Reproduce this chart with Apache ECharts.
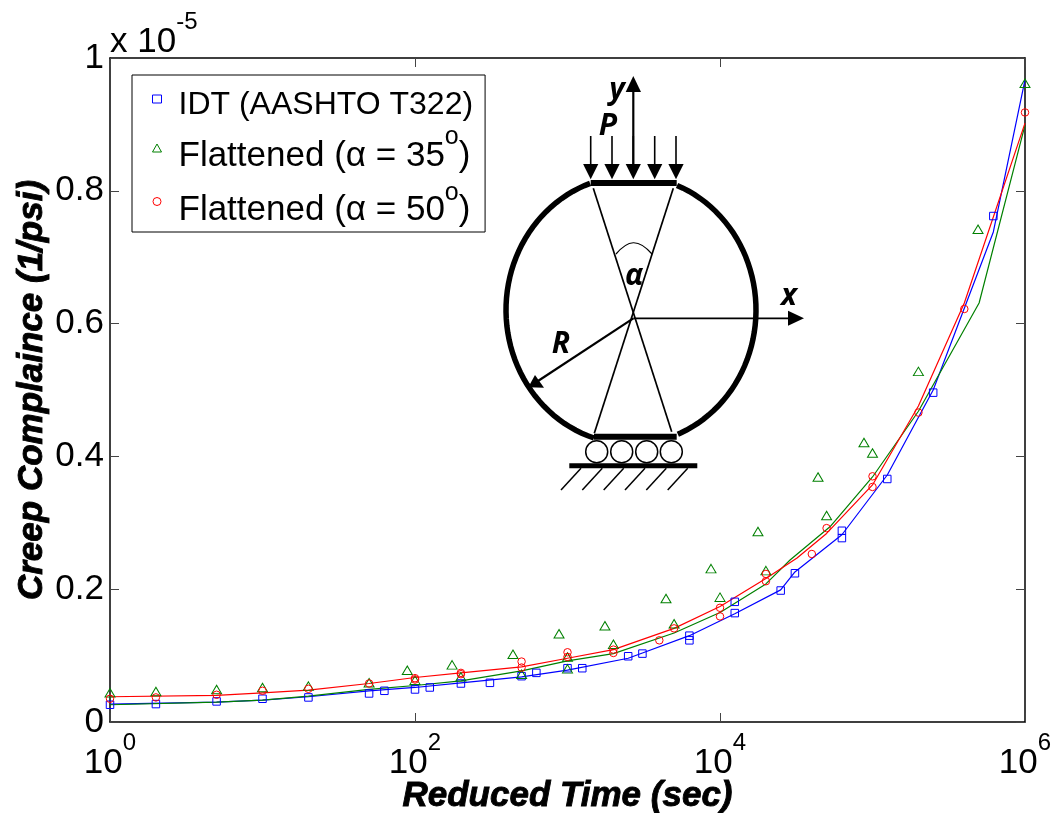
<!DOCTYPE html>
<html>
<head>
<meta charset="utf-8">
<style>html,body{margin:0;padding:0;background:#fff}#c{width:1057px;height:813px}</style>
<script src="https://cdn.jsdelivr.net/npm/echarts@6/dist/echarts.min.js"></script>
</head>
<body>
<div id="c"></div>
<script>
// values are in units of 1e-5 1/psi
var idtPoints = [[1,.026],[2,.027],[5,.031],[10,.035],[20,.037],[50,.043],[63,.047],[100,.049],[125,.052],[200,.058],[310,.059],[500,.069],[625,.074],[1000,.081],[1250,.081],[2500,.099],[3100,.103],[6300,.130],[6300,.123],[12500,.164],[12500,.181],[25000,.198],[31000,.224],[63000,.277],[63000,.288],[125000,.366],[250000,.496],[620000,.762]];
var a35Points = [[1,.044],[2,.046],[5,.049],[10,.052],[20,.054],[50,.059],[89,.078],[100,.063],[175,.086],[200,.068],[439,.102],[500,.072],[880,.133],[1000,.098],[1000,.080],[1760,.145],[2000,.117],[4425,.186],[5000,.148],[8730,.231],[10000,.188],[17740,.287],[20000,.228],[43950,.369],[50000,.311],[87900,.421],[100000,.405],[200000,.528],[492000,.742],[1000000,.962]];
var a50Points = [[1,.035],[2,.037],[5,.041],[10,.047],[20,.050],[50,.058],[100,.066],[100,.064],[200,.074],[200,.072],[500,.091],[500,.082],[1000,.105],[1000,.098],[2000,.109],[2000,.104],[4000,.123],[5000,.141],[10000,.172],[10000,.159],[20000,.223],[20000,.212],[40000,.253],[50000,.292],[100000,.370],[100000,.354],[200000,.466],[400000,.622],[1000000,.918]];
var idtFit = [[1,.027],[5,.030],[10,.033],[20,.038],[50,.047],[100,.052],[200,.059],[500,.068],[1000,.078],[2500,.096],[3100,.104],[6300,.130],[12500,.163],[25000,.199],[31000,.226],[63000,.282],[125000,.372],[250000,.500],[620000,.738],[1000000,.967]];
var a35Fit = [[1,.026],[5,.030],[10,.033],[20,.039],[50,.049],[100,.055],[200,.062],[500,.077],[1000,.092],[2000,.103],[5000,.134],[10000,.165],[20000,.208],[28800,.244],[52600,.294],[100000,.369],[200000,.468],[500000,.631],[1000000,.899]];
var a50Fit = [[1,.038],[5,.040],[10,.044],[20,.048],[50,.058],[100,.067],[200,.074],[500,.083],[1000,.096],[2000,.109],[5000,.141],[10000,.174],[20000,.216],[32000,.247],[50000,.284],[100000,.357],[200000,.476],[400000,.631],[1000000,.902]];
var xTicks = [1,100,10000,1000000];
var names = ['IDT (AASHTO T322)','Flattened (α = 35°)','Flattened (α = 50°)'];

var BLUE='#0000ff', GREEN='#008000', RED='#ff0000';
var SANS='"Liberation Sans"';
var INK='#000';

function ln(x1,y1,x2,y2,w){return {type:'line',z:20,shape:{x1:x1,y1:y1,x2:x2,y2:y2},style:{stroke:INK,lineWidth:w}};}
function tri(p){return {type:'polygon',z:20,shape:{points:p},style:{fill:INK}};}
function txt(s,x,y,size){return {type:'text',z:21,style:{text:s,x:x,y:y,fill:INK,font:'italic bold '+size+'px "Open Sans"',align:'center',verticalAlign:'middle'}};}
function arc(t0,t1){var p=[];for(var t=t0;t<t1;t+=3){var r=t*Math.PI/180;p.push([631+125*Math.cos(r),310+134*Math.sin(r)]);}
  var e=t1*Math.PI/180;p.push([631+125*Math.cos(e),310+134*Math.sin(e)]);
  return {type:'polyline',z:20,shape:{points:p},style:{stroke:INK,lineWidth:5.5,fill:null}};}
var diagram=[arc(107.2,250.9),arc(-68.4,68),
  ln(590.7,183,676.7,183,6),ln(594,436.7,676.7,436.7,6),
  ln(593.3,188.3,671.7,431.7,1.7),ln(673.3,188.3,594.3,433.3,1.7),
  {type:'bezierCurve',z:20,shape:{x1:616,y1:254,x2:652,y2:254,cpx1:628,cpy1:240,cpx2:638,cpy2:238},style:{stroke:INK,lineWidth:1.2,fill:null}},
  ln(633.3,318.3,790,318.3,1.8),tri([[788,310.7],[804,318.3],[788,325.7]]),
  ln(633.3,166,633.3,90,2.2),tri([[625.7,92],[641,92],[633.3,76]]),
  ln(633.3,318.3,538,381,2.2),tri([[535,375],[544,387.7],[528.3,387.3]])];
[590.7,612,633.3,654.7,676].forEach(function(x){diagram.push(ln(x,136,x,166,1.6));diagram.push(tri([[x-7.6,164],[x+7.6,164],[x,179.3]]));});
[596.7,621.7,646.7,671.3].forEach(function(x){diagram.push({type:'circle',z:20,shape:{cx:x,cy:451.7,r:11},style:{stroke:INK,lineWidth:1.5,fill:'#fff'}});});
diagram.push(ln(569.3,465.7,697.3,465.7,5));
[581,602.3,623.7,645,666.3,687.7].forEach(function(x){diagram.push(ln(x,468.3,x-20,490,1.5));});
diagram.push(txt('y',617,90,30),txt('P',608,126,30),txt('α',634,276,30),txt('x',789,296,30),txt('R',561,344,30));
diagram.push({type:'text',z:21,style:{x:110,y:10,fill:INK,align:'left',verticalAlign:'top',
  text:'{m|x 10}{s|-5}',rich:{m:{fontSize:35,fontFamily:SANS,padding:[15,0,0,0]},s:{fontSize:24,fontFamily:SANS,verticalAlign:'top'}}}});

function scatter(name,data,sym,size,color){return {name:name,type:'scatter',data:data,symbol:sym,symbolSize:size,clip:false,z:5,
  itemStyle:{color:'rgba(255,255,255,0)',borderColor:color,borderWidth:1,opacity:1},emphasis:{disabled:true}};}
function fit(name,data,color){return {name:name,type:'line',data:data,showSymbol:false,symbol:'none',smooth:false,clip:false,z:4,lineStyle:{color:color,width:1.2},emphasis:{disabled:true}};}
var titleStyle={fontFamily:SANS,fontStyle:'italic',fontWeight:'bold',fontSize:35,color:INK,textBorderColor:INK,textBorderWidth:0.9};
var tick={inside:true,length:9,lineStyle:{color:'#444',width:1}};
var line={show:true,onZero:false,lineStyle:{color:INK,width:1.5}};

function row(t){
  if(t===names[0]) return '{p|}{a|'+t+'}';
  var head=t.slice(0,t.indexOf('°'));
  var pad=t===names[1]?'b':'c';
  return '{'+(t===names[1]?'p':'q')+'|}{'+pad+'|'+head+'}{'+pad+'s|o}{'+pad+'|)}';
}
var option={
  animation:false,
  backgroundColor:'#fff',
  grid:{left:110,right:32,top:58,bottom:91,containLabel:false,outerBoundsMode:'none'},
  legend:{show:true,orient:'vertical',left:132,top:75,padding:[2,12,4,20],itemGap:1.5,itemWidth:9,itemHeight:8,
    data:names,backgroundColor:'#fff',borderColor:INK,borderWidth:1,selectedMode:false,z:10,
    itemStyle:{borderWidth:1},
    formatter:row,
    textStyle:{fontFamily:SANS,color:INK,rich:{
      p:{width:12},
      q:{width:12,lineHeight:87},
      a:{fontSize:32,fontFamily:SANS,lineHeight:46,padding:[12,0,0,0]},
      b:{fontSize:35,fontFamily:SANS,lineHeight:48,padding:[16,0,0,0]},
      bs:{fontSize:25,fontFamily:SANS,verticalAlign:'top',padding:[1,0,0,0]},
      c:{fontSize:35,fontFamily:SANS,lineHeight:87,padding:[18,0,0,0]},
      cs:{fontSize:25,fontFamily:SANS,verticalAlign:'top',padding:[23,0,0,0]}
    }}},
  xAxis:[
    {type:'log',logBase:10,min:1,max:1000000,position:'bottom',
     name:'Reduced Time (sec)',nameLocation:'middle',nameGap:57,nameMoveOverlap:false,nameTextStyle:titleStyle,
     axisLine:line,splitLine:{show:false},minorTick:{show:false},minorSplitLine:{show:false},
     axisTick:Object.assign({customValues:xTicks},tick),
     axisLabel:{customValues:xTicks,margin:9,hideOverlap:false,showMinLabel:true,showMaxLabel:true,
       formatter:function(v){return '{m|10}{s|'+Math.round(Math.log10(v))+'}';},
       rich:{m:{fontSize:35,fontFamily:SANS,color:INK,padding:[15,0,0,0]},s:{fontSize:24,fontFamily:SANS,color:INK,verticalAlign:'top'}}}},
    {type:'log',logBase:10,min:1,max:1000000,position:'top',
     axisLine:line,splitLine:{show:false},minorTick:{show:false},axisLabel:{show:false},
     axisTick:Object.assign({customValues:xTicks},tick)}
  ],
  yAxis:[
    {type:'value',min:0,max:1,interval:0.2,position:'left',
     name:'Creep Complaince (1/psi)',nameLocation:'middle',nameRotate:90,nameGap:60,nameMoveOverlap:false,nameTextStyle:titleStyle,
     axisLine:line,splitLine:{show:false},axisTick:tick,
     axisLabel:{margin:6,fontSize:35,fontFamily:SANS,color:INK,showMinLabel:true,showMaxLabel:true,formatter:function(v){return String(+v.toFixed(1));}}},
    {type:'value',min:0,max:1,interval:0.2,position:'right',
     axisLine:line,splitLine:{show:false},axisTick:tick,axisLabel:{show:false}}
  ],
  graphic:{elements:diagram},
  series:[
    fit('IDT fit',idtFit,BLUE),fit('α = 35° fit',a35Fit,GREEN),fit('α = 50° fit',a50Fit,RED),
    scatter(names[0],idtPoints,'rect',7.5,BLUE),
    scatter(names[1],a35Points,'triangle',[10,8.5],GREEN),
    scatter(names[2],a50Points,'circle',7.5,RED)
  ]
};
echarts.init(document.getElementById('c'),null,{renderer:'canvas'}).setOption(option);
</script>
</body>
</html>
